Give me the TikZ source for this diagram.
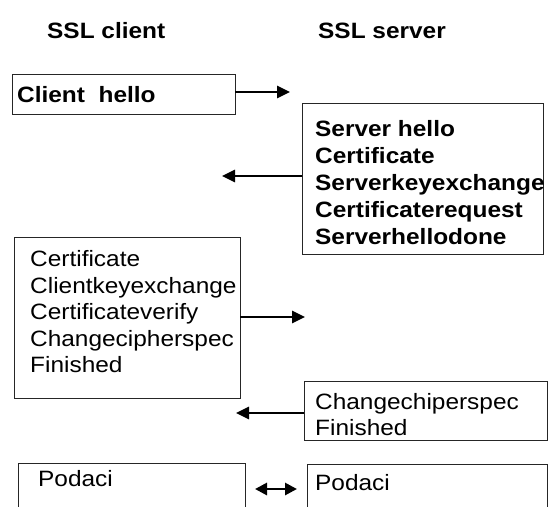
\documentclass[tikz,border=0pt]{standalone}
\usepackage{fontspec}
\setmainfont{Liberation Sans}[FakeStretch=1.1]
\usetikzlibrary{arrows.meta}
\tikzset{
  box/.style={draw=black!85, line width=0.9pt, inner sep=0pt, outer sep=0pt, anchor=north west},
  txt/.style={anchor=base west, inner sep=0pt, font=\fontsize{22.2}{26}\selectfont},
  btxt/.style={txt, font=\fontsize{22.2}{26}\selectfont\bfseries},
  msg/.style={line width=2.8pt, -{Triangle[length=13pt,width=12pt]}},
  dmsg/.style={line width=2.8pt, {Triangle[length=12pt,width=12pt]}-{Triangle[length=12pt,width=12pt]}}
}
\begin{document}
\begin{tikzpicture}[x=1pt,y=-1pt]
\useasboundingbox (0,0) rectangle (548,506);
% headers
\node[btxt] (hc) at (47,38.5) {SSL client};
\node[btxt] (hs) at (318,38.5) {SSL server};
% client hello
\node[box, minimum width=223pt, minimum height=40pt] (ch) at (12,74) {};
\node[btxt] (cht) at (17,102) {Client~~hello};
\coordinate (a1) at (290,92);
\draw[msg] (ch.east |- a1) -- (a1);
% server box
\node[box, minimum width=241pt, minimum height=151pt] (sb) at (302,103) {};
\node[btxt] (s1) at (315,136.5) {Server hello};
\node[btxt] (s2) at (315,163.5) {Certificate};
\node[btxt] (s3) at (315,190.5) {Serverkeyexchange};
\node[btxt] (s4) at (315,217.5) {Certificaterequest};
\node[btxt] (s5) at (315,244.5) {Serverhellodone};
\coordinate (a2) at (222,176);
\draw[msg] (sb.west |- a2) -- (a2);
% client box 2
\node[box, minimum width=226pt, minimum height=161pt] (cb) at (14,237) {};
\node[txt] (c1) at (30,266.5) {Certificate};
\node[txt] (c2) at (30,293) {Clientkeyexchange};
\node[txt] (c3) at (30,319.5) {Certificateverify};
\node[txt] (c4) at (30,346) {Changecipherspec};
\node[txt] (c5) at (30,372.5) {Finished};
\coordinate (a3) at (305,317);
\draw[msg] (cb.east |- a3) -- (a3);
% server box 2
\node[box, minimum width=243pt, minimum height=59pt] (sb2) at (304,381) {};
\node[txt] (d1) at (315,409.5) {Changechiperspec};
\node[txt] (d2) at (315,435.5) {Finished};
\coordinate (a4) at (236,413);
\draw[msg] (sb2.west |- a4) -- (a4);
% data
\node[box, minimum width=227pt, minimum height=60pt] (pc) at (18,463) {};
\node[txt] (pct) at (38,486.5) {Podaci};
\node[box, minimum width=240pt, minimum height=60pt] (ps) at (307,464) {};
\node[txt] (pst) at (315,490.5) {Podaci};
\coordinate (b1) at (255,489);
\coordinate (b2) at (297,489);
\draw[dmsg] (b1) -- (b2);
\end{tikzpicture}
\end{document}
